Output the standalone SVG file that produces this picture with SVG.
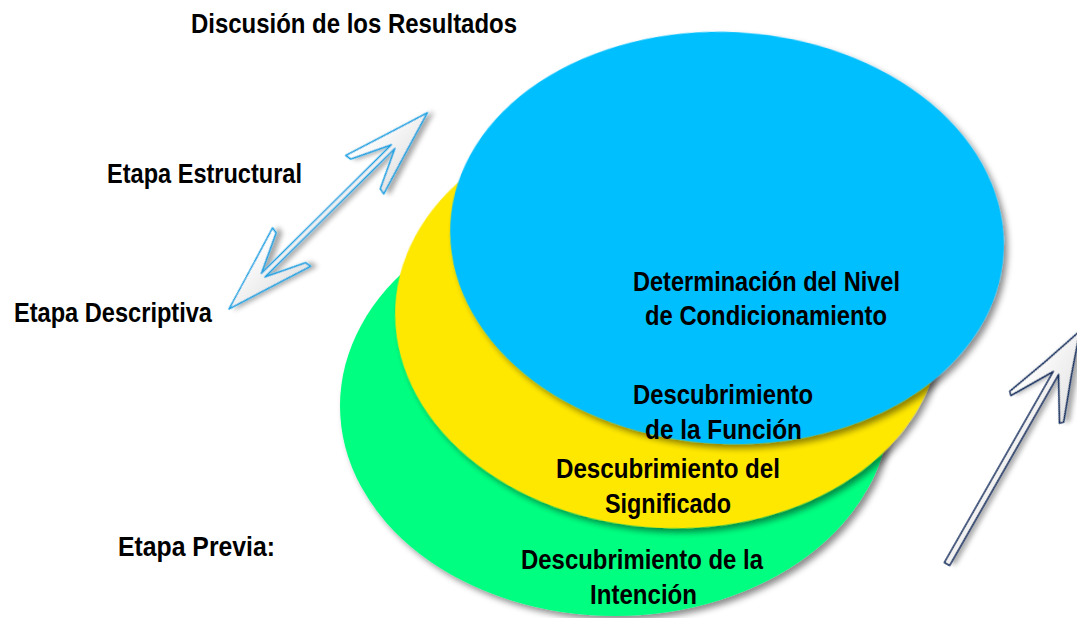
<svg xmlns="http://www.w3.org/2000/svg" width="1077" height="618" viewBox="0 0 1077 618">
  <style>
    .t { font-family: "Liberation Sans", Arial, sans-serif; font-weight: bold; font-size: 28px; fill: #000; }
    .arrowA { fill: url(#arrowFill); stroke: #1BA1E2; stroke-width: 1.6; stroke-linejoin: round; }
    .arrowB { fill: url(#arrowFill); stroke: #0F2A5C; stroke-width: 1.6; stroke-linejoin: round; }
  </style>
  <defs>
    <filter id="shadow" x="-20%" y="-20%" width="140%" height="140%">
      <feDropShadow dx="4" dy="4" stdDeviation="3" flood-color="#000" flood-opacity="0.45"/>
    </filter>
    <filter id="ashadow" x="-20%" y="-20%" width="140%" height="140%">
      <feDropShadow dx="4" dy="4" stdDeviation="2.5" flood-color="#000" flood-opacity="0.35"/>
    </filter>
    <linearGradient id="arrowFill" x1="0" y1="0" x2="0" y2="1">
      <stop offset="0" stop-color="#ffffff"/>
      <stop offset="1" stop-color="#e4e4e4"/>
    </linearGradient>
  </defs>
  <rect width="1077" height="618" fill="#fff"/>

  <g id="ellipse-green">
    <ellipse cx="615" cy="406" rx="275" ry="210" fill="#00FF80" filter="url(#shadow)"/>
  </g>
  <g id="ellipse-yellow">
    <ellipse cx="668" cy="320" rx="273" ry="208" transform="rotate(3 668 320)" fill="#FFE800" filter="url(#shadow)"/>
  </g>
  <g id="ellipse-blue">
    <ellipse cx="727" cy="238" rx="277" ry="206" transform="rotate(3 727 238)" fill="#00BFFF" filter="url(#shadow)"/>
  </g>

  <g id="connectors">
    <path class="arrowA" filter="url(#ashadow)" transform="translate(229,309) rotate(-44.7)"
      d="M0,0 Q40,-12 88,-27 L87,-21 L48,-2.5 L231,-2.5 L192,-21 L191,-27 Q239,-12 279,0 Q239,12 191,27 L192,21 L231,2.5 L48,2.5 L87,21 L88,27 Q40,12 0,0 Z"/>
    <path class="arrowB" filter="url(#ashadow)" transform="translate(947,564) rotate(-60.3)"
      d="M0,-3 L220,-3 L178,-28 L181,-31 Q225,-14 268,0 Q225,14 181,31 L178,28 L220,3 L0,3 Z"/>
  </g>

  <g id="label-discusion">
    <text class="t" x="191" y="33" textLength="326" lengthAdjust="spacingAndGlyphs">Discusión de los Resultados</text>
  </g>
  <g id="label-estructural">
    <text class="t" x="107" y="183" textLength="195" lengthAdjust="spacingAndGlyphs">Etapa Estructural</text>
  </g>
  <g id="label-descriptiva">
    <text class="t" x="14" y="322" textLength="198" lengthAdjust="spacingAndGlyphs">Etapa Descriptiva</text>
  </g>
  <g id="label-previa">
    <text class="t" x="118" y="556" textLength="157" lengthAdjust="spacingAndGlyphs">Etapa Previa:</text>
  </g>

  <g id="text-blue">
    <text class="t" x="633" y="291" textLength="267" lengthAdjust="spacingAndGlyphs">Determinación del Nivel</text>
    <text class="t" x="645" y="325" textLength="242" lengthAdjust="spacingAndGlyphs">de Condicionamiento</text>
  </g>
  <g id="text-funcion">
    <text class="t" x="633" y="404" textLength="180" lengthAdjust="spacingAndGlyphs">Descubrimiento</text>
    <text class="t" x="645" y="439" textLength="157" lengthAdjust="spacingAndGlyphs">de la Función</text>
  </g>
  <g id="text-significado">
    <text class="t" x="556" y="478" textLength="224" lengthAdjust="spacingAndGlyphs">Descubrimiento del</text>
    <text class="t" x="605" y="513" textLength="126" lengthAdjust="spacingAndGlyphs">Significado</text>
  </g>
  <g id="text-intencion">
    <text class="t" x="521" y="569" textLength="242" lengthAdjust="spacingAndGlyphs">Descubrimiento de la</text>
    <text class="t" x="590" y="604" textLength="107" lengthAdjust="spacingAndGlyphs">Intención</text>
  </g>
</svg>
